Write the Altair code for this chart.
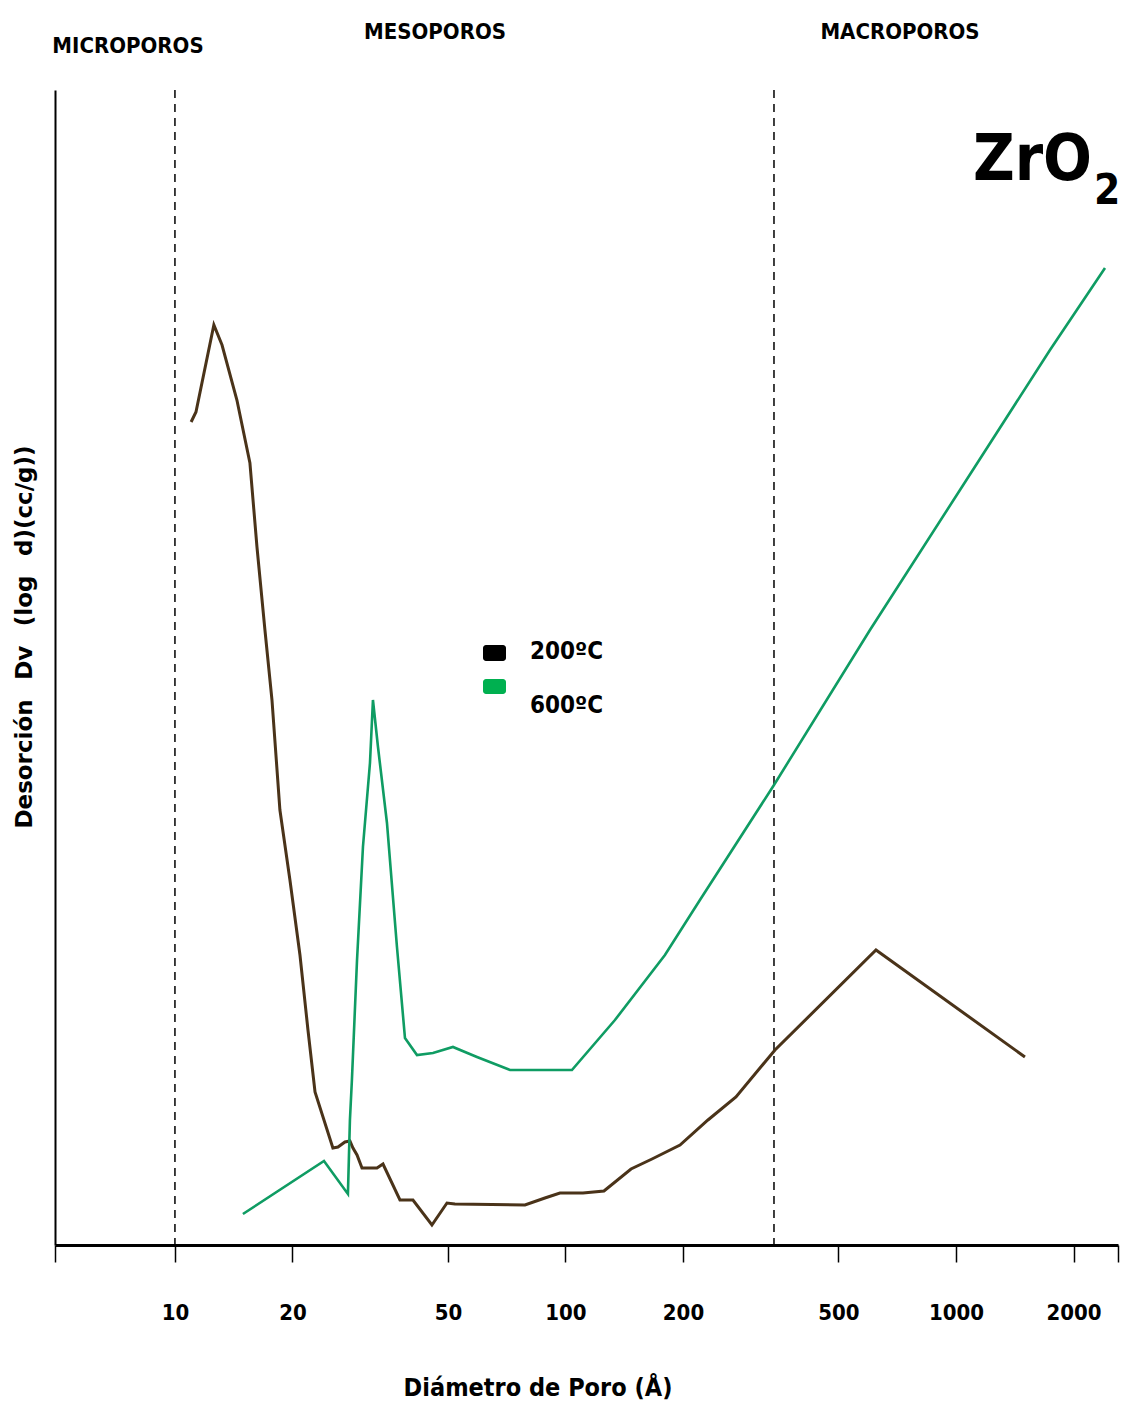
import altair as alt
import pandas as pd

# ---- data (diameter in Å, desorption in arbitrary units) ----
d200 = [11.0, 11.32, 12.58, 13.2, 14.41, 15.56, 16.22, 17.0, 17.72, 18.57, 19.7, 20.9, 21.91, 22.84,
        25.38, 26.15, 27.25, 28.06, 28.57, 29.26, 30.13, 32.91, 34.1, 37.69, 40.69, 45.51, 49.73,
        52.12, 78.77, 88.6, 96.8, 110.9, 125.5, 147.2, 166.6, 196.5, 231.7, 273.3, 344.0, 624.1, 1502]
v200 = [82.3, 83.3, 92.0, 90.0, 84.5, 78.2, 69.8, 61.5, 54.5, 43.5, 36.5, 29.0, 21.5, 15.3,
        9.7, 9.8, 10.3, 10.4, 9.7, 9.0, 7.7, 7.7, 8.1, 4.5, 4.5, 2.0, 4.2,
        4.1, 4.0, 4.7, 5.2, 5.2, 5.4, 7.6, 8.6, 10.0, 12.5, 14.8, 19.5, 29.5, 18.8]

d600 = [14.93, 24.08, 27.73, 28.06, 28.39, 29.26, 30.3, 31.58, 32.14, 33.11, 34.91, 37.03, 38.82,
        41.67, 45.79, 51.51, 59.35, 72.1, 103.9, 133.9, 179.8, 221.0, 342.0, 602.3, 1024, 1741, 2408]
v600 = [3.1, 8.4, 5.1, 12.5, 16.5, 28.5, 39.8, 48.2, 54.5, 49.8, 42.2, 29.8, 20.7,
        19.0, 19.2, 19.8, 18.8, 17.5, 17.5, 22.5, 29.0, 34.5, 46.0, 61.5, 75.5, 89.5, 97.7]

series_names = ["200ºC", "600ºC"]
line_colors = ["#4a3319", "#0f9c63"]
line_widths = [3.0, 2.6]
legend_colors = ["#000000", "#00b050"]

tick_values = [4.93, 10, 20, 50, 100, 200, 500, 1000, 2000, 2600]
boundaries = [10, 342]
region_labels = ["MICROPOROS", "MESOPOROS", "MACROPOROS"]

x_domain = [4.93, 2600]
y_domain = [0, 115.5]

NARROW = "Liberation Sans Narrow, DejaVu Sans Condensed, Roboto Condensed, Arial Narrow, DejaVu Sans, sans-serif"

rows = []
for i, (d, v) in enumerate(zip(d200, v200)):
    rows.append({"d": d, "v": v, "serie": series_names[0], "i": i})
for i, (d, v) in enumerate(zip(d600, v600)):
    rows.append({"d": d, "v": v, "serie": series_names[1], "i": i})
df = pd.DataFrame(rows)

xscale = alt.Scale(type="log", domain=x_domain, nice=False)
yscale = alt.Scale(domain=y_domain, nice=False, zero=False)

xaxis = alt.Axis(values=tick_values, title=None, grid=False, domainColor="black", domainWidth=3,
                 tickColor="black", tickWidth=1.5, tickSize=17, labelFont=NARROW, labelFontSize=22,
                 labelFontWeight="bold", labelColor="black", labelPadding=40, labelBaseline="top",
                 labelOverlap=False, labelFlush=False,
                 labelExpr="datum.value < 6 || datum.value > 2500 ? '' : format(datum.value, 'd')")
yaxis = alt.Axis(title=None, grid=False, ticks=False, labels=False, domainColor="black", domainWidth=2)

lines = alt.Chart(df).mark_line().encode(
    x=alt.X("d:Q", scale=xscale, axis=xaxis),
    y=alt.Y("v:Q", scale=yscale, axis=yaxis),
    color=alt.Color("serie:N", scale=alt.Scale(domain=series_names, range=line_colors), legend=None),
    strokeWidth=alt.StrokeWidth("serie:N", scale=alt.Scale(domain=series_names, range=line_widths), legend=None),
    order="i:Q",
    detail="serie:N",
)

rules = alt.Chart(pd.DataFrame({"b": boundaries})).mark_rule(
    color="black", strokeWidth=1.5, strokeDash=[8, 6]
).encode(x=alt.X("b:Q", scale=xscale))

# region labels above the plot
reg = alt.Chart(pd.DataFrame({"t": region_labels, "px": [73, 380, 845], "py": [-44, -58, -58]})).mark_text(
    font=NARROW, fontSize=22, fontWeight="bold", color="black", baseline="middle", align="center"
).encode(text="t:N", x=alt.X("px:Q", scale=None), y=alt.Y("py:Q", scale=None))

zr = alt.Chart(pd.DataFrame({"t": ["ZrO"]})).mark_text(
    font=NARROW, fontSize=64, fontWeight="bold", color="black", align="right", baseline="alphabetic"
).encode(text="t:N", x=alt.value(1037), y=alt.value(90))
zr2 = alt.Chart(pd.DataFrame({"t": ["2"]})).mark_text(
    font=NARROW, fontSize=42, fontWeight="bold", color="black", align="left", baseline="alphabetic"
).encode(text="t:N", x=alt.value(1039), y=alt.value(114))

# legend
leg_df = pd.DataFrame({"serie": series_names, "col": legend_colors,
                       "rx": [428, 428], "rx2": [451, 451], "ry": [555, 589], "ry2": [571, 604],
                       "tx": [475, 475], "ty": [562, 616]})
leg_rect = alt.Chart(leg_df).mark_rect(cornerRadius=3).encode(
    x=alt.X("rx:Q", scale=None), x2="rx2:Q", y=alt.Y("ry:Q", scale=None), y2="ry2:Q",
    fill=alt.Fill("col:N", scale=None))
leg_text = alt.Chart(leg_df).mark_text(
    font=NARROW, fontSize=24, fontWeight="bold", color="black", align="left", baseline="middle"
).encode(text="serie:N", x=alt.X("tx:Q", scale=None), y=alt.Y("ty:Q", scale=None))

ytitle_text = "Desorción\u2002\u00a0Dv\u2002\u00a0(log\u2002\u00a0d)(cc/g))"
ytitle = alt.Chart(pd.DataFrame({"t": [ytitle_text]})).mark_text(
    font="DejaVu Sans", fontSize=23, fontWeight="bold", color="black", angle=270,
    align="center", baseline="middle"
).encode(text="t:N", x=alt.value(-30), y=alt.value(547))

xtitle = alt.Chart(pd.DataFrame({"t": ["Diámetro de Poro (Å)"]})).mark_text(
    font=NARROW, fontSize=25, fontWeight="bold", color="black", align="center", baseline="middle"
).encode(text="t:N", x=alt.value(483), y=alt.value(1298))

chart = alt.layer(rules, lines, reg, zr, zr2, leg_rect, leg_text, ytitle, xtitle).properties(
    width=1063, height=1155,
    autosize=alt.AutoSizeParams(type="none"),
    padding={"left": 55, "top": 90, "right": 4, "bottom": 167},
    background="white",
).configure_view(stroke=None)

chart.save("out.html", embed_options={"renderer": "svg", "actions": False})
